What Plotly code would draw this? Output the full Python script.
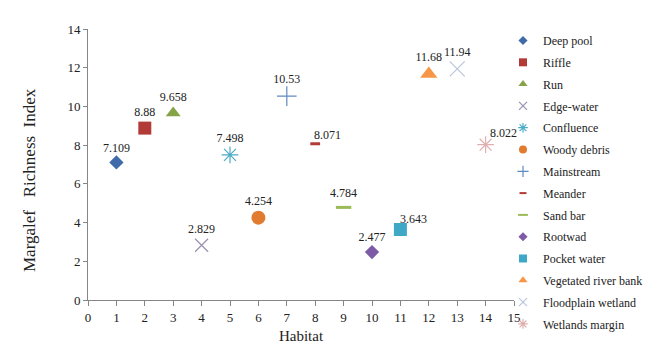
import plotly.graph_objects as go

habitats = ["Deep pool", "Riffle", "Run", "Edge-water", "Confluence", "Woody debris",
            "Mainstream", "Meander", "Sand bar", "Rootwad", "Pocket water",
            "Vegetated river bank", "Floodplain wetland", "Wetlands margin"]
habitat_no = [1, 2, 3, 4, 5, 6, 7, 8, 9, 10, 11, 12, 13, 14]
richness = [7.109, 8.88, 9.658, 2.829, 7.498, 4.254, 10.53, 8.071, 4.784, 2.477,
            3.643, 11.68, 11.94, 8.022]

symbols = ["diamond", "square", "triangle-up", "x-thin-open", "asterisk-open", "circle",
           "cross-thin-open", "line-ew-open", "line-ew-open", "diamond", "square",
           "triangle-up", "x-thin-open", "asterisk-open"]
colors = ["#3F6BAA", "#B23B38", "#86A447", "#9A90B0", "#4BACC6", "#E07B2F",
          "#5F8BC0", "#B23B38", "#9BBB59", "#7E5BA6", "#3FA8C6",
          "#F79646", "#B8C6DC", "#E0AFAF"]
sizes = [11, 13, 13, 13, 14, 14, 14, 7, 11, 11, 13, 15, 15, 14]
legend_sizes = [7, 8, 8, 8, 8, 8, 8, 5, 7, 7, 8, 8, 8, 8]
line_widths = [0, 0, 0, 1.2, 1.2, 0, 1.2, 3, 3, 0, 0, 0, 1.2, 1.2]
# labels that sit up and to the right of their marker: (x shift, y shift) in px
offset_labels = {"Meander": (-3, 7), "Pocket water": (-2, 8), "Wetlands margin": (2, 10)}

serif = "Liberation Serif, Times New Roman, serif"

# page geometry (pixels)
W, H = 649, 362
m_l, m_r, m_t, m_b = 88, 0, 20, 20
pw, ph = W - m_l - m_r, H - m_t - m_b
x_right = 514                  # right end of the x axis
y_top, y_bottom = 29, 300      # plot area, vertical


def px_to_paper_x(px):
    return (px - m_l) / pw


def px_to_paper_y(py):
    return (H - m_b - py) / ph


fig = go.Figure()
annotations = []
for name, x, y, sym, col, sz, lsz, lw in zip(habitats, habitat_no, richness, symbols,
                                            colors, sizes, legend_sizes, line_widths):
    shifted = name in offset_labels
    # the data point with its value label
    fig.add_trace(go.Scatter(
        x=[x], y=[y], name=name, legendgroup=name, showlegend=False,
        mode="markers" if shifted else "markers+text",
        text=[str(y)], textposition="top center",
        textfont=dict(family=serif, size=12, color="#222"),
        marker=dict(symbol=sym, color=col, size=sz,
                    line=dict(color=col, width=lw)),
        cliponaxis=False,
    ))
    if shifted:
        dx, dy = offset_labels[name]
        annotations.append(dict(
            x=x, y=y, xref="x", yref="y", text=str(y), showarrow=False,
            xanchor="left", yanchor="bottom", xshift=dx, yshift=dy - 7,
            font=dict(family=serif, size=12, color="#222"),
        ))
    # small legend key for the same habitat
    fig.add_trace(go.Scatter(
        x=[None], y=[None], name=name, legendgroup=name, showlegend=True,
        mode="markers",
        marker=dict(symbol=sym, color=col, size=lsz,
                    line=dict(color=col, width=min(lw, 2) if lw else 0)),
    ))

annotations.append(dict(
    text="Margalef\u00a0\u00a0 Richness\u00a0 Index",
    textangle=-90, showarrow=False,
    xref="paper", yref="paper",
    x=px_to_paper_x(29), y=px_to_paper_y(180),
    xanchor="center", yanchor="middle",
    font=dict(family=serif, size=17, color="#222"),
))

fig.update_layout(
    width=W, height=H,
    margin=dict(l=m_l, r=m_r, t=m_t, b=m_b, autoexpand=False),
    plot_bgcolor="white", paper_bgcolor="white",
    font=dict(family=serif, size=12, color="#222"),
    showlegend=True,
    legend=dict(x=px_to_paper_x(503), y=px_to_paper_y(26),
                xanchor="left", yanchor="top",
                font=dict(family=serif, size=12, color="#222"),
                tracegroupgap=2.8, itemsizing="trace", itemwidth=30,
                maxheight=340, bgcolor="rgba(0,0,0,0)"),
    xaxis=dict(domain=[0, px_to_paper_x(x_right)],
               range=[0, 15], dtick=1, tick0=0, showgrid=False, zeroline=False,
               showline=True, linecolor="#868686", linewidth=1,
               ticks="outside", ticklen=5, tickcolor="#868686",
               tickfont=dict(family=serif, size=13),
               title=dict(text="Habitat", font=dict(family=serif, size=15), standoff=6)),
    yaxis=dict(domain=[px_to_paper_y(y_bottom), px_to_paper_y(y_top)],
               range=[0, 14], dtick=2, tick0=0, showgrid=False, zeroline=False,
               showline=True, linecolor="#868686", linewidth=1,
               ticks="outside", ticklen=4, tickcolor="#868686",
               tickfont=dict(family=serif, size=13)),
    annotations=annotations,
)

fig.write_html("out.html")
